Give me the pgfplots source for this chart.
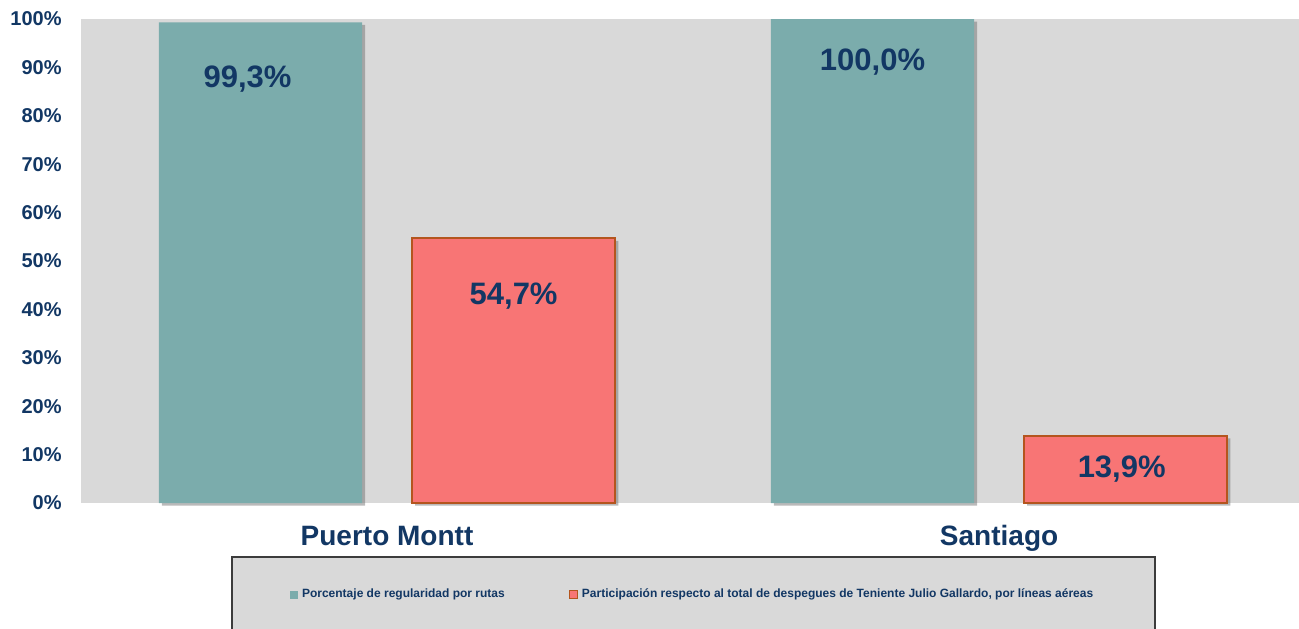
\documentclass[border=0pt]{standalone}
\usepackage{pgfplots}
\pgfplotsset{compat=1.18}
\usepackage{fontspec}
\setmainfont{Liberation Sans}
\usetikzlibrary{calc}
\definecolor{tealc}{RGB}{123,172,172}
\definecolor{redc}{RGB}{248,117,117}
\definecolor{redb}{RGB}{180,85,30}
\definecolor{navy}{RGB}{18,55,100}
\definecolor{plotbg}{RGB}{217,217,217}
\definecolor{legdraw}{RGB}{60,60,60}
\begin{document}
\begin{tikzpicture}
\begin{axis}[
  name=ax, clip=false,
  scale only axis, width=609pt, height=242pt,
  xmin=-0.5, xmax=1.49, ymin=0, ymax=100,
  axis line style={draw=none}, tick style={draw=none}, major tick length=0pt,
  axis background/.style={fill=plotbg},
  xtick={0,1}, xticklabels={Puerto Montt,Santiago},
  xticklabel style={anchor=base, yshift=-21pt, font=\fontsize{14}{16}\selectfont\bfseries, text=navy},
  ytick={0,10,...,100}, yticklabel={\pgfmathprintnumber{\tick}\%},
  yticklabel style={anchor=east, xshift=-9.5pt, inner xsep=0pt, font=\fontsize{10}{12}\selectfont\bfseries, text=navy},
  /pgf/number format/assume math mode=true,
  legend columns=2,
  legend style={at={(axis description cs:0.503,0)}, anchor=north, yshift=-26.5pt,
    fill=plotbg, draw=legdraw, line width=0.8pt, inner xsep=29pt, inner ysep=14pt,
    font=\fontsize{6}{7}\selectfont\bfseries, text=navy,
    /tikz/every even column/.append style={column sep=30pt}},
  legend cell align=left,
]
% soft shadows behind the bars
\addplot[forget plot, ybar, bar width=0.332, bar shift=-0.2018, fill=black!60, draw=none, opacity=0.45, yshift=-1.3pt]
  coordinates {(0,99.3) (1,100.0)};
\addplot[forget plot, ybar, bar width=0.332, bar shift=0.2118, fill=black!60, draw=none, opacity=0.45, yshift=-1.3pt]
  coordinates {(0,54.7) (1,13.9)};
\addplot[ybar, bar width=0.332, bar shift=-0.2068, fill=tealc, draw=none,
  legend image code/.code={\fill[tealc] (0pt,-2pt) rectangle (4pt,2pt);}]
  coordinates {(0,99.3) (1,100.0)};
\addlegendentry{Porcentaje de regularidad por rutas}
\addplot[ybar, bar width=0.332, bar shift=0.2068, fill=redc, draw=redb, line width=0.8pt,
  legend image code/.code={\draw[fill=redc, draw=redb, line width=0.6pt] (0pt,-2pt) rectangle (4pt,2pt);}]
  coordinates {(0,54.7) (1,13.9)};
\addlegendentry{Participación respecto al total de despegues de Teniente Julio Gallardo, por líneas aéreas}
\addplot[forget plot, draw=none, mark=none, nodes near coords, point meta=explicit symbolic,
  nodes near coords style={anchor=base, font=\fontsize{15.5}{18}\selectfont\bfseries, text=navy}]
  coordinates {(-0.228,85.95) [99,3\%] (0.2068,41.1) [54,7\%] (0.7932,89.3) [100,0\%] (1.2003,5.37) [13,9\%]};
\end{axis}
\pgfresetboundingbox
\path ($(ax.south west)+(-40.5pt,-62.5pt)$) rectangle ($(ax.south west)+(609pt,251.5pt)$);
\end{tikzpicture}
\end{document}
